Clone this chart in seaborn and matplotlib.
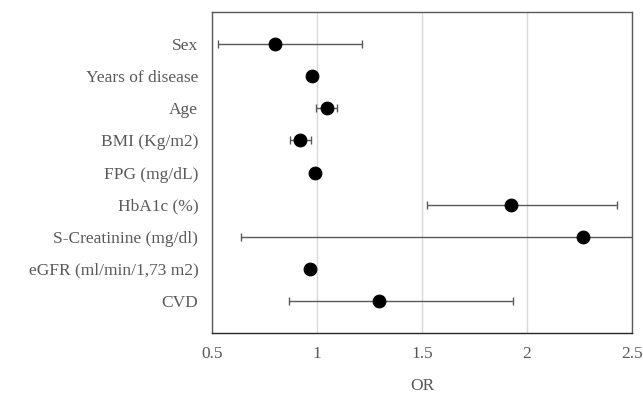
import numpy as np
import pandas as pd
import seaborn as sns
import matplotlib.pyplot as plt

# values
variables = ['Sex', 'Years of disease', 'Age', 'BMI (Kg/m2)', 'FPG (mg/dL)',
             'HbA1c (%)', 'S-Creatinine (mg/dl)', 'eGFR (ml/min/1,73 m2)', 'CVD']
odds_ratio = [0.80, 0.974, 1.045, 0.918, 0.988, 1.924, 2.264, 0.967, 1.295]
ci_low = [0.53, 0.965, 0.994, 0.871, 0.983, 1.525, 0.635, 0.962, 0.867]
ci_high = [1.214, 0.983, 1.095, 0.969, 0.993, 2.427, 2.8, 0.972, 1.931]

df = pd.DataFrame({'variable': variables, 'OR': odds_ratio,
                   'low': ci_low, 'high': ci_high})
df['pos'] = np.arange(1, len(df) + 1)

sns.set_style('white')
plt.rcParams['font.family'] = ['Liberation Serif', 'DejaVu Serif']

fig, ax = plt.subplots(figsize=(6.43, 3.98), dpi=100)
fig.subplots_adjust(left=0.33, right=0.983, top=0.97, bottom=0.163)

# confidence intervals
ax.errorbar(df['OR'], df['pos'],
            xerr=[df['OR'] - df['low'], df['high'] - df['OR']],
            fmt='none', ecolor='#595959', elinewidth=1, capsize=3, capthick=1,
            zorder=2)
sns.scatterplot(data=df, x='OR', y='pos', color='black', s=85,
                edgecolor='black', zorder=3, ax=ax)

ax.set_xlim(0.5, 2.5)
ax.set_ylim(10, 0)
ax.set_xticks([0.5, 1, 1.5, 2, 2.5])
ax.set_xticklabels(['0.5', '1', '1.5', '2', '2.5'])
ax.set_yticks(df['pos'])
ax.set_yticklabels(df['variable'])
ax.tick_params(axis='both', labelsize=12.5, colors='#595959', length=0)
ax.tick_params(axis='y', pad=10)
ax.tick_params(axis='x', pad=9)
ax.xaxis.grid(True, color='#d9d9d9', linewidth=1)
ax.yaxis.grid(False)
ax.set_axisbelow(True)
for side in ['left', 'right', 'top']:
    ax.spines[side].set_color('#595959')
    ax.spines[side].set_linewidth(1)
ax.spines['bottom'].set_color('#262626')
ax.spines['bottom'].set_linewidth(1)

ax.set_xlabel('OR', fontsize=12.5, color='#595959', labelpad=12)
ax.set_ylabel('')

plt.savefig('out.png', dpi=100)
